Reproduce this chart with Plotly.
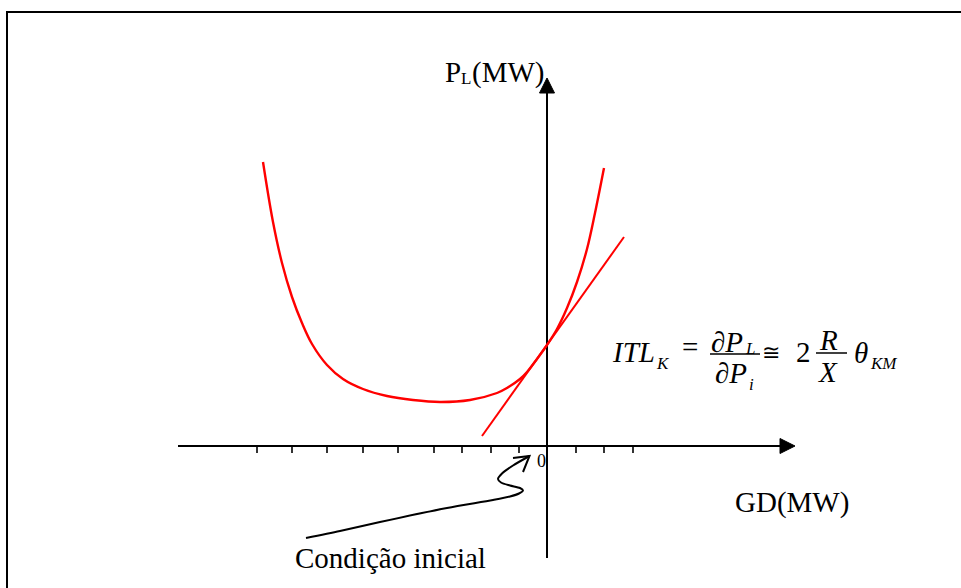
import plotly.graph_objects as go

# Transmission losses P_L (MW) against distributed generation GD (MW)
gd = [-28.4, -27.4, -26.5, -25.5, -24.5, -23.5, -22.0, -20.4, -18.4, -16.0, -13.4,
      -10.7, -7.7, -5.0, -4.0, -2.7, -2.0, -1.0, 0.0, 1.0, 2.0, 3.0, 4.0, 4.8, 5.7]
pl = [28.4, 22.4, 18.3, 14.9, 12.3, 10.2, 8.1, 6.7, 5.7, 5.0, 4.6,
      4.4, 4.6, 5.3, 5.8, 6.7, 7.4, 8.7, 10.1, 11.7, 13.8, 16.4, 19.7, 23.3, 27.8]

# Tangent (incremental transmission loss) at the initial condition
tangent_gd = [-6.5, 7.7]
tangent_pl = [1.0, 20.9]

# Tick marks along the GD axis
tick_gd = [-29.0, -25.5, -22.0, -18.4, -14.9, -11.3, -8.5, -5.6, -2.8, 2.9, 5.7, 8.6]

# Extents of the two drawn axes (arrow tips at the upper end)
gd_axis = [-36.9, 24.8]
pl_axis = [-11.2, 36.8]

# Hand-drawn pointer towards the initial condition
pointer_gd = [-24.1, -20.7, -16.7, -10.0, -5.4, -3.7, -2.8, -2.4, -2.7, -3.7,
              -4.6, -4.9, -4.5, -3.4, -1.75]
pointer_pl = [-9.2, -8.5, -7.6, -6.2, -5.4, -5.05, -4.75, -4.45, -4.2, -3.95,
              -3.65, -3.3, -2.75, -1.95, -1.0]
pointer_head_gd = [-3.4, -1.75, -2.4]
pointer_head_pl = [-1.2, -1.0, -2.6]

ORIGIN_PX = (547, 446)   # page pixel of the (0, 0) crossing
PX_PER_UNIT = 10
W, H = 961, 588
SERIF = "Liberation Serif, Times New Roman, serif"
RED = "#ff0000"


def ux(p):
    return (p - ORIGIN_PX[0]) / PX_PER_UNIT


def uy(p):
    return (ORIGIN_PX[1] - p) / PX_PER_UNIT


fig = go.Figure()

# Axes
fig.add_trace(go.Scatter(x=[gd_axis[0], gd_axis[1] - 1.5], y=[0, 0], mode="lines",
                         line=dict(color="black", width=2), hoverinfo="skip"))
fig.add_trace(go.Scatter(x=[0, 0], y=[pl_axis[0], pl_axis[1] - 1.5], mode="lines",
                         line=dict(color="black", width=2), hoverinfo="skip"))
# Arrow heads
fig.add_trace(go.Scatter(x=[gd_axis[1], gd_axis[1] - 1.5, gd_axis[1] - 1.5, gd_axis[1]],
                         y=[0, 0.75, -0.75, 0], mode="lines", fill="toself",
                         fillcolor="black", line=dict(color="black", width=1),
                         hoverinfo="skip"))
fig.add_trace(go.Scatter(x=[0, -0.75, 0.75, 0],
                         y=[pl_axis[1], pl_axis[1] - 1.5, pl_axis[1] - 1.5, pl_axis[1]],
                         mode="lines", fill="toself", fillcolor="black",
                         line=dict(color="black", width=1), hoverinfo="skip"))

# Tick marks
tx, ty = [], []
for t in tick_gd:
    tx += [t, t, None]
    ty += [0, -0.7, None]
fig.add_trace(go.Scatter(x=tx, y=ty, mode="lines", line=dict(color="black", width=1.6),
                         hoverinfo="skip"))

# Loss curve and tangent
fig.add_trace(go.Scatter(x=gd, y=pl, mode="lines", line=dict(color=RED, width=2.4,
                         shape="spline", smoothing=1.0), hoverinfo="skip"))
fig.add_trace(go.Scatter(x=tangent_gd, y=tangent_pl, mode="lines",
                         line=dict(color=RED, width=2), hoverinfo="skip"))

# Pointer
fig.add_trace(go.Scatter(x=pointer_gd, y=pointer_pl, mode="lines",
                         line=dict(color="black", width=2, shape="spline", smoothing=0.8),
                         hoverinfo="skip"))
fig.add_trace(go.Scatter(x=pointer_head_gd, y=pointer_head_pl, mode="lines",
                         line=dict(color="black", width=2), hoverinfo="skip"))


def write(text, left, baseline, size, italic=False):
    fig.add_annotation(x=ux(left - 2), y=uy(baseline - 0.3375 * size), xref="x", yref="y",
                       text=f"<i>{text}</i>" if italic else text, showarrow=False,
                       xanchor="left", yanchor="middle",
                       font=dict(family=SERIF, size=size, color="black"))


# Axis titles and labels
write("P", 445, 82, 29)
write("L", 461, 84, 17)
write("(MW)", 472, 82, 29)
write("0", 537, 467, 18)
write("GD(MW)", 735, 512, 29)
write("Condição inicial", 295, 568, 29)

# ITL_K = dP_L/dP_i ~= 2 (R/X) theta_KM
write("ITL", 612, 362, 29, True)
write("K", 656, 369, 17, True)
write("=", 682, 357, 29)
write("∂<i>P</i>", 711, 352, 29)
write("L", 745, 354, 17, True)
write("∂<i>P</i>", 715, 383, 29)
write("i", 749, 390, 17, True)
write("≅", 762, 360, 22)
write("2", 796, 362, 29)
write("R", 819, 350, 29, True)
write("X", 818, 382, 29, True)
write("θ", 854, 363, 29, True)
write("KM", 870, 369, 17, True)

shapes = [
    # fraction bars
    dict(type="line", xref="x", yref="y", x0=ux(710), x1=ux(760), y0=uy(354), y1=uy(354),
         line=dict(color="black", width=1.5)),
    dict(type="line", xref="x", yref="y", x0=ux(816), x1=ux(847), y0=uy(353), y1=uy(353),
         line=dict(color="black", width=1.5)),
    # frame (top and left edges)
    dict(type="line", xref="paper", yref="paper", x0=6 / W, x1=1, y0=1 - 12 / H, y1=1 - 12 / H,
         line=dict(color="black", width=2)),
    dict(type="line", xref="paper", yref="paper", x0=7 / W, x1=7 / W, y0=0, y1=1 - 12 / H,
         line=dict(color="black", width=2)),
]

fig.update_layout(
    width=W, height=H, autosize=False,
    margin=dict(l=0, r=0, t=0, b=0),
    paper_bgcolor="white", plot_bgcolor="white",
    showlegend=False, shapes=shapes,
    xaxis=dict(range=[ux(0), ux(W)], visible=False, fixedrange=True),
    yaxis=dict(range=[uy(H), uy(0)], visible=False, fixedrange=True),
)

fig.write_html("out.html", config={"displayModeBar": False})
